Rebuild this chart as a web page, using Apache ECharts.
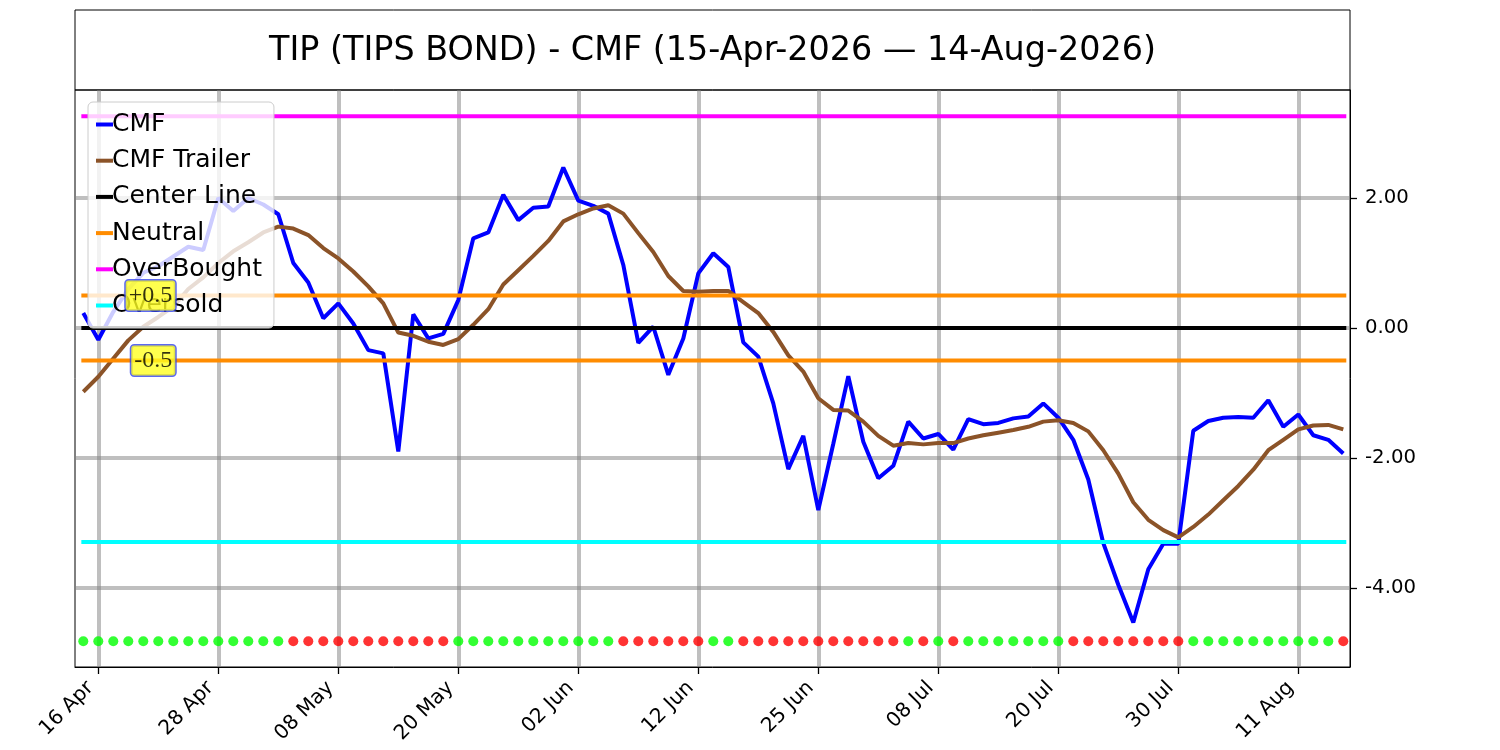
<!DOCTYPE html>
<html><head><meta charset="utf-8">
<script src="https://cdn.jsdelivr.net/npm/echarts@6/dist/echarts.min.js"></script>
<style>html,body{margin:0;padding:0;background:#fff}#c{width:1500px;height:750px}</style>
</head><body><div id="c"></div>
<script>
const dates = ['15 Apr','16 Apr','17 Apr','20 Apr','21 Apr','22 Apr','23 Apr','24 Apr','27 Apr','28 Apr','29 Apr','30 Apr',
'01 May','04 May','05 May','06 May','07 May','08 May','11 May','12 May','13 May','14 May','15 May','18 May','19 May','20 May','21 May','22 May','26 May','27 May','28 May','29 May',
'01 Jun','02 Jun','03 Jun','04 Jun','05 Jun','08 Jun','09 Jun','10 Jun','11 Jun','12 Jun','15 Jun','16 Jun','17 Jun','18 Jun','22 Jun','23 Jun','24 Jun','25 Jun','26 Jun','29 Jun','30 Jun',
'01 Jul','02 Jul','06 Jul','07 Jul','08 Jul','09 Jul','10 Jul','13 Jul','14 Jul','15 Jul','16 Jul','17 Jul','20 Jul','21 Jul','22 Jul','23 Jul','24 Jul','27 Jul','28 Jul','29 Jul','30 Jul','31 Jul',
'03 Aug','04 Aug','05 Aug','06 Aug','07 Aug','10 Aug','11 Aug','12 Aug','13 Aug','14 Aug'];
const tickLabels = ['16 Apr','28 Apr','08 May','20 May','02 Jun','12 Jun','25 Jun','08 Jul','20 Jul','30 Jul','11 Aug'];
const yTicks = [-4, -2, 0, 2];
const cmf = [0.23,-0.18,0.25,0.6,0.85,0.95,1.1,1.25,1.2,2.0,1.8,2.0,1.9,1.75,
1.0,0.7,0.15,0.38,0.07,-0.34,-0.39,-1.90,0.21,-0.16,-0.09,0.43,1.38,1.47,2.05,
1.66,1.85,1.87,2.47,1.96,1.88,1.76,0.97,-0.23,0.02,-0.72,-0.16,0.84,1.15,
0.94,-0.22,-0.44,-1.16,-2.17,-1.66,-2.80,-1.78,-0.74,-1.75,-2.31,-2.12,-1.44,-1.70,
-1.63,-1.87,-1.40,-1.48,-1.46,-1.39,-1.36,-1.16,-1.38,-1.72,-2.33,-3.31,-3.95,-4.53,
-3.71,-3.32,-3.32,-1.58,-1.43,-1.38,-1.37,-1.38,-1.11,-1.52,-1.33,-1.65,-1.72,-1.93];
const cmfTrailer = [-0.98,-0.75,-0.47,-0.19,0.02,0.17,0.33,0.6,0.78,1.0,1.18,1.32,1.47,1.56,
1.53,1.43,1.23,1.07,0.87,0.64,0.38,-0.07,-0.12,-0.21,-0.26,-0.17,0.05,0.29,0.67,
0.89,1.11,1.34,1.64,1.75,1.84,1.89,1.76,1.46,1.17,0.80,0.57,0.56,0.57,
0.57,0.40,0.23,-0.06,-0.42,-0.67,-1.08,-1.26,-1.27,-1.44,-1.66,-1.81,-1.77,-1.79,
-1.77,-1.77,-1.70,-1.65,-1.61,-1.57,-1.52,-1.44,-1.42,-1.46,-1.59,-1.88,-2.24,-2.68,
-2.95,-3.11,-3.22,-3.06,-2.87,-2.65,-2.43,-2.18,-1.88,-1.72,-1.56,-1.50,-1.49,-1.56];
const signal = ['G','G','G','G','G','G','G','G','G','G','G','G','G','G',
'R','R','R','R','R','R','R','R','R','R','R',
'G','G','G','G','G','G','G','G','G','G','G',
'R','R','R','R','R','R',
'G','G',
'R','R','R','R','R','R','R','R','R','R','R',
'G','R','G','R',
'G','G','G','G','G','G','G',
'R','R','R','R','R','R','R','R',
'G','G','G','G','G','G','G','G','G','G',
'R'];
const centerLevel = 0;
const neutralLevels = [0.5, -0.5];
const neutralLabels = ['+0.5', '-0.5'];
const overBought = 3.26;
const overSold = -3.29;
const signalLevel = -4.82;

const lineStart = -0.13, lineEnd = dates.length - 1 + 0.2;
const labelX = 6.13;
const tickIdx = tickLabels.map(l => dates.indexOf(l));
const FONT = 'DejaVu Sans';
const gridStyle = { color: 'rgba(128,128,128,0.5)', width: 4 };

function hline(name, level, color) {
  return { name, type: 'line', data: [[lineStart, level], [lineEnd, level]], showSymbol: false, symbol: 'none',
    lineStyle: { color, width: 4 }, itemStyle: { color }, silent: true, z: 2 };
}

const chart = echarts.init(document.getElementById('c'), null, { renderer: 'canvas' });
chart.setOption({
  animation: false,
  backgroundColor: '#fff',
  title: {
    text: 'TIP (TIPS BOND) - CMF (15-Apr-2026 \u2014 14-Aug-2026)',
    left: 712.5, top: 31, textAlign: 'center', padding: 0,
    textStyle: { fontFamily: FONT, fontSize: 33.4, fontWeight: 'normal', color: '#000', lineHeight: 40 }
  },
  graphic: [{ type: 'rect', shape: { x: 75, y: 10, width: 1275, height: 80 },
    style: { fill: 'none', stroke: '#000', lineWidth: 1 }, silent: true }],
  grid: { left: 75, right: 150, top: 90, bottom: 83, show: true, borderColor: '#000', borderWidth: 1, backgroundColor: 'transparent' },
  legend: {
    data: ['CMF', 'CMF Trailer', 'Center Line', 'Neutral', 'OverBought', 'Oversold'].map(n => ({ name: n, icon: 'rect' })),
    orient: 'vertical', left: 88, top: 102, itemWidth: 17, itemHeight: 4, itemGap: 11.2,
    padding: [10, 12, 10, 8], selectedMode: false,
    backgroundColor: 'rgba(255,255,255,0.8)', borderColor: '#cccccc', borderWidth: 1, borderRadius: 5,
    textStyle: { fontFamily: FONT, fontSize: 25, color: '#000', lineHeight: 25, padding: [0, 0, 0, -6] }
  },
  xAxis: {
    type: 'value', min: -0.553, max: 84.447,
    axisLine: { show: true, onZero: false, lineStyle: { color: '#000', width: 1 } },
    axisTick: { show: true, customValues: tickIdx, length: 7, lineStyle: { color: '#000', width: 1.3 } },
    axisLabel: { customValues: tickIdx, formatter: v => dates[v], rotate: 45, margin: 10, padding: [0, 11, 0, 0],
      fontFamily: FONT, fontSize: 20.2, color: '#000' },
    splitLine: { show: true, lineStyle: gridStyle }
  },
  yAxis: {
    type: 'value', position: 'right', min: -5.215, max: 3.662,
    axisLine: { show: true, onZero: false, lineStyle: { color: '#000', width: 1 } },
    axisTick: { show: true, customValues: yTicks, length: 7, lineStyle: { color: '#000', width: 1.3 } },
    axisLabel: { customValues: yTicks, formatter: v => v.toFixed(2), margin: 15, fontFamily: FONT, fontSize: 19.7, color: '#000' },
    splitLine: { show: true, lineStyle: gridStyle }
  },
  series: [
    { name: 'CMF', type: 'line', data: cmf.map((v, i) => [i, v]), showSymbol: false, symbol: 'none',
      lineStyle: { color: '#0000ff', width: 4 }, itemStyle: { color: '#0000ff' }, z: 2 },
    { name: 'CMF Trailer', type: 'line', data: cmfTrailer.map((v, i) => [i, v]), showSymbol: false, symbol: 'none',
      lineStyle: { color: '#8b5328', width: 4 }, itemStyle: { color: '#8b5328' }, z: 2 },
    hline('Center Line', centerLevel, '#000000'),
    hline('Neutral', neutralLevels[0], '#ff8c00'),
    hline('Neutral', neutralLevels[1], '#ff8c00'),
    hline('OverBought', overBought, '#ff00ff'),
    hline('Oversold', overSold, '#00ffff'),
    { name: 'Signal', type: 'scatter', symbolSize: 10, z: 2, silent: true,
      data: signal.map((s, i) => ({ value: [i, signalLevel], itemStyle: { color: s === 'G' ? '#00ff00' : '#ff0000' } })) },
    { name: 'NeutralLabels', type: 'scatter', symbolSize: 0, z: 10, silent: true,
      data: neutralLevels.map((lv, k) => ({ value: [labelX, lv], name: neutralLabels[k] })),
      label: { show: true, position: 'left', distance: 0, formatter: p => p.name,
        fontFamily: 'Liberation Serif', fontSize: 24, lineHeight: 24, color: '#000',
        backgroundColor: '#ffff22', borderColor: '#3344ee', borderWidth: 1.5, borderRadius: 3, padding: [3, 3, 3, 3] } }
  ]
});
</script></body></html>
